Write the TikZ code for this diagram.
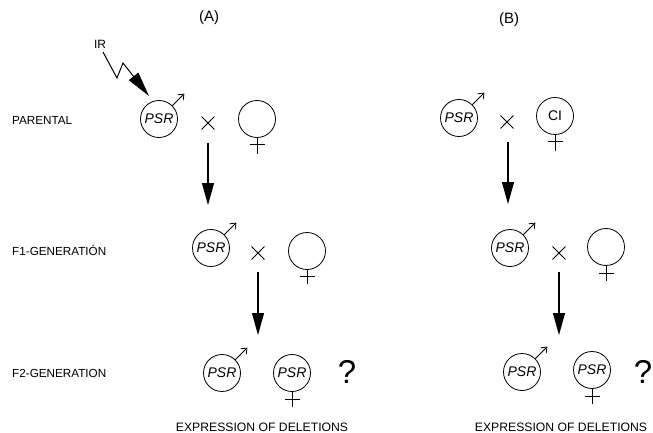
\documentclass[tikz,border=0pt]{standalone}
\usepackage{fontspec}
\setmainfont{Liberation Sans}
\usetikzlibrary{arrows.meta,shapes.misc}
\begin{document}
\begin{tikzpicture}[x=1pt,y=-1pt,
 sexc/.style={circle,draw,line width=0.8pt,minimum size=37pt,inner sep=0pt,font=\fontsize{14}{14}\selectfont\itshape},
 crossx/.style={draw,cross out,line width=0.9pt,minimum size=12pt,inner sep=0pt},
 gen/.style={anchor=west,font=\fontsize{11.7}{12}\selectfont,inner sep=0pt},
 ttl/.style={font=\fontsize{15}{15}\selectfont,inner sep=0pt},
 downarr/.style={line width=1.1pt,-{Triangle[length=22pt,width=12pt]}},
 malearr/.style={line width=0.8pt,-{Straight Barb[length=5pt,width=8pt]}},
 fem/.style={line width=0.8pt},
 qm/.style={font=\fontsize{33}{33}\selectfont,inner sep=0pt},
 expr/.style={font=\fontsize{12.2}{12}\selectfont,inner sep=0pt},
 irarr/.style={line width=1pt,-{Triangle[length=25pt,width=12pt]}}
]
\useasboundingbox (0,0) rectangle (653,433);

% titles and row labels
\node[ttl] (tA) at (209,18) {(A)};
\node[ttl] (tB) at (509,20) {(B)};
\node[gen] (lp) at (12,120) {PARENTAL};
\node[gen] (l1) at (12,250) {F1-GENERATIÓN};
\node[gen] (l2) at (12,373) {F2-GENERATION};

% ===== column A =====
\node[font=\fontsize{12}{12}\selectfont,inner sep=0pt] (ir) at (100,44) {IR};
\coordinate (z0) at (103,52);
\coordinate (z1) at (117,78);
\coordinate (z2) at (123,63);
\coordinate (z3) at (149,96);
\draw[irarr,line join=miter] (z0) -- (z1) -- (z2) -- (z3);

\node[sexc] (am0) at (159,119) {PSR};
\draw[malearr] (am0.45) -- ++(12,-12);
\node[crossx] (ax0) at (208,123) {};
\node[sexc] (af0) at (257,119) {};
\draw[fem] (af0.south) -- ++(0,16);
\draw[fem] ([yshift=-7pt]af0.south) +(-7.5,0) -- +(7.5,0);

\coordinate (a1s) at (208,143);
\coordinate (a1e) at (208,205);
\draw[downarr] (a1s) -- (a1e);

\node[sexc] (am1) at (211,248) {PSR};
\draw[malearr] (am1.45) -- ++(12,-12);
\node[crossx] (ax1) at (258,253) {};
\node[sexc] (af1) at (307,251) {};
\draw[fem] (af1.south) -- ++(0,14);
\draw[fem] ([yshift=-6pt]af1.south) +(-7.5,0) -- +(7.5,0);

\coordinate (a2s) at (258,272);
\coordinate (a2e) at (258,335);
\draw[downarr] (a2s) -- (a2e);

\node[sexc] (am2) at (222,373) {PSR};
\draw[malearr] (am2.45) -- ++(12,-12);
\node[sexc] (af2) at (292,373) {PSR};
\draw[fem] (af2.south) -- ++(0,15);
\draw[fem] ([yshift=-7pt]af2.south) +(-7.5,0) -- +(7.5,0);
\node[qm] (aq) at (347,372) {?};
\node[expr] (ae) at (262,427) {EXPRESSION OF DELETIONS};

% ===== column B =====
\node[sexc] (bm0) at (459,118) {PSR};
\draw[malearr] (bm0.45) -- ++(12,-12);
\node[crossx] (bx0) at (507,122) {};
\node[sexc,font=\fontsize{14}{14}\selectfont\upshape] (bf0) at (555,116) {CI};
\draw[fem] (bf0.south) -- ++(0,16);
\draw[fem] ([yshift=-7pt]bf0.south) +(-7.5,0) -- +(7.5,0);

\coordinate (b1s) at (508,142);
\coordinate (b1e) at (508,204);
\draw[downarr] (b1s) -- (b1e);

\node[sexc] (bm1) at (510,248) {PSR};
\draw[malearr] (bm1.45) -- ++(12,-12);
\node[crossx] (bx1) at (559,253) {};
\node[sexc] (bf1) at (606,247) {};
\draw[fem] (bf1.south) -- ++(0,15);
\draw[fem] ([yshift=-7pt]bf1.south) +(-7.5,0) -- +(7.5,0);

\coordinate (b2s) at (559,272);
\coordinate (b2e) at (559,335);
\draw[downarr] (b2s) -- (b2e);

\node[sexc] (bm2) at (522,372) {PSR};
\draw[malearr] (bm2.45) -- ++(12,-12);
\node[sexc] (bf2) at (592,370) {PSR};
\draw[fem] (bf2.south) -- ++(0,15);
\draw[fem] ([yshift=-7pt]bf2.south) +(-7.5,0) -- +(7.5,0);
\node[qm] (bq) at (643,372) {?};
\node[expr] (be) at (561,427) {EXPRESSION OF DELETIONS};
\end{tikzpicture}
\end{document}
